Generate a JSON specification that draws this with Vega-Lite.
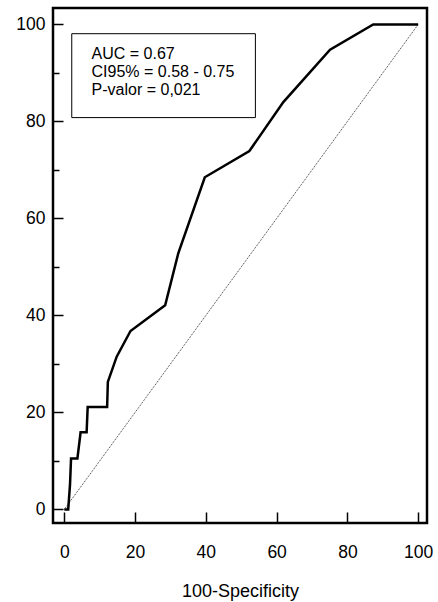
{
  "$schema": "https://vega.github.io/schema/vega-lite/v6.json",
  "width": 374,
  "height": 515,
  "autosize": {"type": "none"},
  "padding": {"left": 53, "top": 8, "right": 11, "bottom": 79},
  "background": "white",
  "config": {
    "view": {"stroke": "black", "strokeWidth": 2.5},
    "font": "Liberation Sans",
    "axis": {
      "domain": false,
      "grid": false,
      "tickColor": "black",
      "tickWidth": 1.5,
      "labelColor": "black",
      "labelFontSize": 17.5,
      "labelFont": "Liberation Sans",
      "titleFont": "Liberation Sans",
      "titleFontWeight": "normal",
      "titleColor": "black"
    }
  },
  "layer": [
    {
      "data": {"values": [{"x": 0, "y": 0}, {"x": 100, "y": 100}]},
      "mark": {"type": "line", "color": "black", "strokeWidth": 0.8, "strokeDash": [1, 1]},
      "encoding": {
        "x": {
          "field": "x", "type": "quantitative",
          "scale": {"domain": [-3.2, 102.5], "nice": false, "zero": false},
          "axis": {
            "title": "100-Specificity",
            "titleFontSize": 18,
            "titlePadding": 22,
            "values": [0,5,10,15,20,25,30,35,40,45,50,55,60,65,70,75,80,85,90,95,100],
            "labelExpr": "datum.value % 20 === 0 ? datum.label : ''",
            "tickSize": {"condition": {"test": "datum.value % 20 === 0", "value": -11}, "value": -5},
            "labelPadding": 31,
            "labelFlush": false,
            "labelOverlap": false
          }
        },
        "y": {
          "field": "y", "type": "quantitative",
          "scale": {"domain": [-2.8, 103.4], "nice": false, "zero": false},
          "axis": {
            "title": null,
            "values": [0,5,10,15,20,25,30,35,40,45,50,55,60,65,70,75,80,85,90,95,100],
            "labelExpr": "datum.value % 20 === 0 ? datum.label : ''",
            "tickSize": {"condition": {"test": "datum.value % 20 === 0", "value": -10}, "value": -6},
            "labelPadding": 18,
            "labelFlush": false,
            "labelOverlap": false
          }
        }
      }
    },
    {
      "data": {"values": [
        {"x": 0, "y": 0}, {"x": 1.1, "y": 0}, {"x": 1.6, "y": 5}, {"x": 1.9, "y": 10.5},
        {"x": 3.7, "y": 10.5}, {"x": 4.6, "y": 15.9}, {"x": 6.3, "y": 15.9}, {"x": 6.6, "y": 21.1},
        {"x": 12.1, "y": 21.1}, {"x": 12.3, "y": 26.3}, {"x": 14.8, "y": 31.5}, {"x": 18.7, "y": 36.8},
        {"x": 28.5, "y": 42.1}, {"x": 32.2, "y": 52.8}, {"x": 39.7, "y": 68.5}, {"x": 52.3, "y": 73.9},
        {"x": 61.9, "y": 84.0}, {"x": 75.1, "y": 94.8}, {"x": 87.3, "y": 100}, {"x": 100, "y": 100}
      ]},
      "mark": {"type": "line", "color": "black", "strokeWidth": 2.5},
      "encoding": {
        "x": {"field": "x", "type": "quantitative"},
        "y": {"field": "y", "type": "quantitative"}
      }
    },
    {
      "data": {"values": [{}]},
      "mark": {"type": "rect", "fill": "white", "stroke": "black", "strokeWidth": 1},
      "encoding": {
        "x": {"datum": 2.1, "type": "quantitative"},
        "x2": {"datum": 54.0},
        "y": {"datum": 98.1, "type": "quantitative"},
        "y2": {"datum": 80.8}
      }
    },
    {
      "data": {"values": [{}]},
      "mark": {
        "type": "text",
        "text": ["AUC = 0.67", "CI95% = 0.58 - 0.75", "P-valor = 0,021"],
        "align": "left",
        "baseline": "alphabetic",
        "fontSize": 16,
        "lineHeight": 18,
        "color": "black",
        "font": "Liberation Sans"
      },
      "encoding": {
        "x": {"datum": 7.7, "type": "quantitative"},
        "y": {"datum": 92.8, "type": "quantitative"}
      }
    }
  ]
}
